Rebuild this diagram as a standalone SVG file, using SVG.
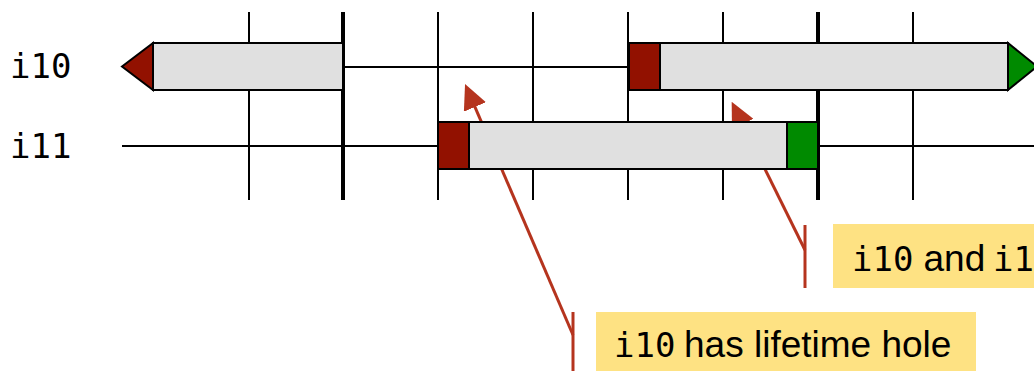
<svg xmlns="http://www.w3.org/2000/svg" width="1034" height="371" viewBox="0 0 1034 371">
<style>
.grid{stroke:#000;stroke-width:2;fill:none}
.thick{stroke:#000;stroke-width:4;fill:none}
.row{stroke:#000;stroke-width:2;fill:none}
.bar{fill:#e0e0e0;stroke:#000;stroke-width:2}
.def{fill:#921100;stroke:#000;stroke-width:2}
.use{fill:#008a00;stroke:#000;stroke-width:2}
.mono{font-family:"DejaVu Sans Mono","Liberation Mono",monospace;font-size:34px;fill:#000}
.sans{font-family:"Liberation Sans",Arial,sans-serif;font-size:37px;fill:#000}
.note{fill:#fee283}
.call{stroke:#b5341e;stroke-width:3;fill:none}
</style>
<defs>
<marker id="ah" viewBox="0 0 25 24" refX="15" refY="12" markerWidth="25" markerHeight="24" markerUnits="userSpaceOnUse" orient="auto">
<path d="M0,0 L25,12 L0,24 z" fill="#b5341e"/>
</marker>
</defs>
<g id="grid">
<line class="grid" x1="249" y1="12" x2="249" y2="200"/>
<line class="thick" x1="343" y1="12" x2="343" y2="200"/>
<line class="grid" x1="438" y1="12" x2="438" y2="200"/>
<line class="grid" x1="533" y1="12" x2="533" y2="200"/>
<line class="grid" x1="628" y1="12" x2="628" y2="200"/>
<line class="grid" x1="723" y1="12" x2="723" y2="200"/>
<line class="thick" x1="818" y1="12" x2="818" y2="200"/>
<line class="grid" x1="913" y1="12" x2="913" y2="200"/>
</g>
<g id="connectors">
<line class="row" x1="343" y1="67" x2="628" y2="67"/>
<line class="row" x1="122" y1="146" x2="438" y2="146"/>
<line class="row" x1="818" y1="146" x2="1034" y2="146"/>
<polyline class="call" points="573,312 573,371"/>
<line class="call" x1="573" y1="335" x2="469" y2="93.2" marker-end="url(#ah)"/>
<polyline class="call" points="805,225 805,288"/>
<line class="call" x1="805" y1="250" x2="736.1" y2="110.7" marker-end="url(#ah)"/>
</g>
<g id="label-i10"><text class="mono" x="10" y="78">i10</text></g>
<g id="label-i11"><text class="mono" x="10" y="158">i11</text></g>
<g id="i10-range1">
<rect class="bar" x="153" y="43" width="190" height="47"/>
<polygon class="def" points="122,66.5 153,43 153,90"/>
</g>
<g id="i10-range2">
<rect class="bar" x="660" y="43" width="348" height="47"/>
<rect class="def" x="629" y="43" width="31" height="47"/>
<polygon class="use" points="1008,43 1037,66.5 1008,90"/>
</g>
<g id="i11-range">
<rect class="bar" x="469" y="122" width="318" height="47"/>
<rect class="def" x="438" y="122" width="31" height="47"/>
<rect class="use" x="787" y="122" width="31" height="47"/>
</g>
<g id="note-intersect">
<rect class="note" x="833" y="224" width="210" height="64"/>
<text y="271"><tspan class="mono" x="852">i10</tspan><tspan class="sans" x="923.5">and</tspan><tspan class="mono" x="993">i1</tspan></text>
</g>
<g id="note-hole">
<rect class="note" x="596" y="312" width="380" height="70"/>
<text y="357"><tspan class="mono" x="614">i10</tspan><tspan class="sans" x="684">has lifetime hole</tspan></text>
</g>
</svg>
